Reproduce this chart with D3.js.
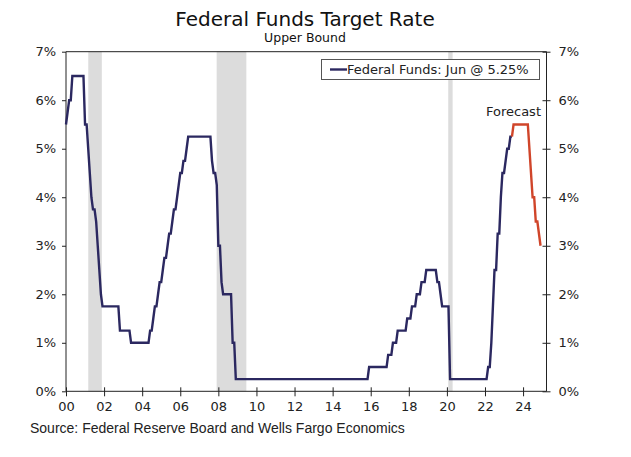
<!DOCTYPE html>
<html><head><meta charset="utf-8">
<script src="https://cdn.jsdelivr.net/npm/d3@7"></script>
<style>body{margin:0;background:#fff}svg{display:block}</style>
</head><body>
<svg id="c" width="631" height="457"></svg>
<script>
// Month-end upper bound of the target rate, Jan..Dec each year
const startYear = 2000;
const monthly = [
  [5.5,5.75,6,6,6.5,6.5,6.5,6.5,6.5,6.5,6.5,6.5],            // 2000
  [5.5,5.5,5,4.5,4,3.75,3.75,3.5,3,2.5,2,1.75],              // 2001
  [1.75,1.75,1.75,1.75,1.75,1.75,1.75,1.75,1.75,1.75,1.25,1.25], // 2002
  [1.25,1.25,1.25,1.25,1.25,1,1,1,1,1,1,1],                  // 2003
  [1,1,1,1,1,1.25,1.25,1.5,1.75,1.75,2,2.25],                // 2004
  [2.25,2.5,2.75,2.75,3,3.25,3.25,3.5,3.75,3.75,4,4.25],     // 2005
  [4.5,4.5,4.75,4.75,5,5.25,5.25,5.25,5.25,5.25,5.25,5.25],  // 2006
  [5.25,5.25,5.25,5.25,5.25,5.25,5.25,5.25,4.75,4.5,4.5,4.25], // 2007
  [3,3,2.25,2,2,2,2,2,2,1,1,0.25],                           // 2008
  [0.25,0.25,0.25,0.25,0.25,0.25,0.25,0.25,0.25,0.25,0.25,0.25], // 2009
  [0.25,0.25,0.25,0.25,0.25,0.25,0.25,0.25,0.25,0.25,0.25,0.25], // 2010
  [0.25,0.25,0.25,0.25,0.25,0.25,0.25,0.25,0.25,0.25,0.25,0.25], // 2011
  [0.25,0.25,0.25,0.25,0.25,0.25,0.25,0.25,0.25,0.25,0.25,0.25], // 2012
  [0.25,0.25,0.25,0.25,0.25,0.25,0.25,0.25,0.25,0.25,0.25,0.25], // 2013
  [0.25,0.25,0.25,0.25,0.25,0.25,0.25,0.25,0.25,0.25,0.25,0.25], // 2014
  [0.25,0.25,0.25,0.25,0.25,0.25,0.25,0.25,0.25,0.25,0.25,0.5],  // 2015
  [0.5,0.5,0.5,0.5,0.5,0.5,0.5,0.5,0.5,0.5,0.5,0.75],        // 2016
  [0.75,0.75,1,1,1,1.25,1.25,1.25,1.25,1.25,1.25,1.5],       // 2017
  [1.5,1.5,1.75,1.75,1.75,2,2,2,2.25,2.25,2.25,2.5],         // 2018
  [2.5,2.5,2.5,2.5,2.5,2.5,2.25,2.25,2,1.75,1.75,1.75],      // 2019
  [1.75,1.75,0.25,0.25,0.25,0.25,0.25,0.25,0.25,0.25,0.25,0.25], // 2020
  [0.25,0.25,0.25,0.25,0.25,0.25,0.25,0.25,0.25,0.25,0.25,0.25], // 2021
  [0.25,0.25,0.5,0.5,1,1.75,2.5,2.5,3.25,3.25,4,4.5],        // 2022
  [4.5,4.75,5,5,5.25,5.25]                                   // 2023 (through Jun)
];
// Forecast path corners (year, month index 0-11) and values
const forecastDates = [[2023,5],[2023,6],[2024,3],[2024,6],[2024,7],[2024,8],[2024,9],[2024,11]];
const forecastValues = [5.25,5.5,5.5,4.0,4.0,3.5,3.5,3.0];
// Recessions (decimal years)
const recessions = [[2001.17,2001.88],[2007.91,2009.47],[2020.07,2020.30]];
const xTickYears = [2000,2002,2004,2006,2008,2010,2012,2014,2016,2018,2020,2022,2024];
const xTickLabels = ["00","02","04","06","08","10","12","14","16","18","20","22","24"];
const yTicks = [0,1,2,3,4,5,6,7];
const legendLabel = "Federal Funds: Jun @ 5.25%";
const forecastLabel = "Forecast";
const title = "Federal Funds Target Rate";
const subtitle = "Upper Bound";
const source = "Source: Federal Reserve Board and Wells Fargo Economics";

const svg = d3.select("#c");
const L = 66, R = 546.5, T = 51.7, B = 391.3;
const x = d3.scaleLinear().domain([2000, 2025.23]).range([L, R]);
const y = d3.scaleLinear().domain([0, 7]).range([B, T]);
const navy = "#2b2860", red = "#d0452a", axisC = "#222";
const font = "'DejaVu Sans', Verdana, sans-serif";

// history points
const hist = [];
monthly.forEach((vals, yi) => vals.forEach((v, m) => hist.push({t: startYear + yi + m/12, v})));
const fc = forecastDates.map((d, i) => ({t: d[0] + d[1]/12, v: forecastValues[i]}));

// recession bars
svg.append("g").selectAll("rect").data(recessions).join("rect")
  .attr("x", d => x(d[0])).attr("width", d => x(d[1]) - x(d[0]))
  .attr("y", T).attr("height", B - T).attr("fill", "#dcdcdc");

// frame
svg.append("line").attr("x1", L).attr("x2", R).attr("y1", T).attr("y2", T).attr("stroke", axisC);

// axes
const yl = svg.append("g").attr("transform", `translate(${L},0)`)
  .call(d3.axisLeft(y).tickValues(yTicks).tickFormat(d => d + "%").tickSize(4).tickPadding(6));
const yr = svg.append("g").attr("transform", `translate(${R},0)`)
  .call(d3.axisRight(y).tickValues(yTicks).tickFormat(d => d + "%").tickSize(4).tickPadding(8));
const xb = svg.append("g").attr("transform", `translate(0,${B})`)
  .call(d3.axisBottom(x).tickValues(xTickYears).tickFormat((d, i) => xTickLabels[i]).tickSize(5).tickPadding(5));
[yl, yr, xb].forEach(g => {
  g.selectAll(".tick line").attr("stroke", axisC);
  g.selectAll("text").attr("font-family", font).attr("font-size", 13).attr("fill", "#222");
});
yl.select(".domain").remove(); yr.select(".domain").remove(); xb.select(".domain").remove();
svg.append("line").attr("x1", L).attr("x2", L).attr("y1", T).attr("y2", B).attr("stroke", axisC);
svg.append("line").attr("x1", R).attr("x2", R).attr("y1", T).attr("y2", B).attr("stroke", axisC);
svg.append("line").attr("x1", L).attr("x2", R).attr("y1", B).attr("y2", B).attr("stroke", axisC);
// crossing ticks inside on right & bottom
yr.selectAll(".tick line").attr("x1", -4);
xb.selectAll(".tick line").attr("y1", -4);

const line = d3.line().x(d => x(d.t)).y(d => y(d.v));
svg.append("path").datum(hist).attr("d", line).attr("fill", "none")
  .attr("stroke", navy).attr("stroke-width", 2.4).attr("stroke-linejoin", "miter");
svg.append("path").datum(fc).attr("d", line).attr("fill", "none")
  .attr("stroke", red).attr("stroke-width", 2.4);

// forecast label
svg.append("text").attr("x", 541).attr("y", 116).attr("text-anchor", "end")
  .attr("font-family", font).attr("font-size", 13).attr("fill", "#222").text(forecastLabel);

// legend
const lg = svg.append("g");
lg.append("rect").attr("x", 321.5).attr("y", 59.5).attr("width", 218).attr("height", 20)
  .attr("fill", "#fff").attr("stroke", "#555");
lg.append("line").attr("x1", 330).attr("x2", 347).attr("y1", 69.5).attr("y2", 69.5)
  .attr("stroke", navy).attr("stroke-width", 2.4);
lg.append("text").attr("x", 347).attr("y", 74).attr("font-family", font).attr("font-size", 13)
  .attr("fill", "#222").text(legendLabel);

// titles
svg.append("text").attr("x", 305).attr("y", 26).attr("text-anchor", "middle")
  .attr("font-family", font).attr("font-size", 20).attr("fill", "#111").text(title);
svg.append("text").attr("x", 305).attr("y", 42).attr("text-anchor", "middle")
  .attr("font-family", font).attr("font-size", 12.5).attr("fill", "#111").text(subtitle);
svg.append("text").attr("x", 30).attr("y", 433)
  .attr("font-family", "'Liberation Sans', Arial, sans-serif").attr("font-size", 14).attr("fill", "#222").text(source);
</script>
</body></html>
